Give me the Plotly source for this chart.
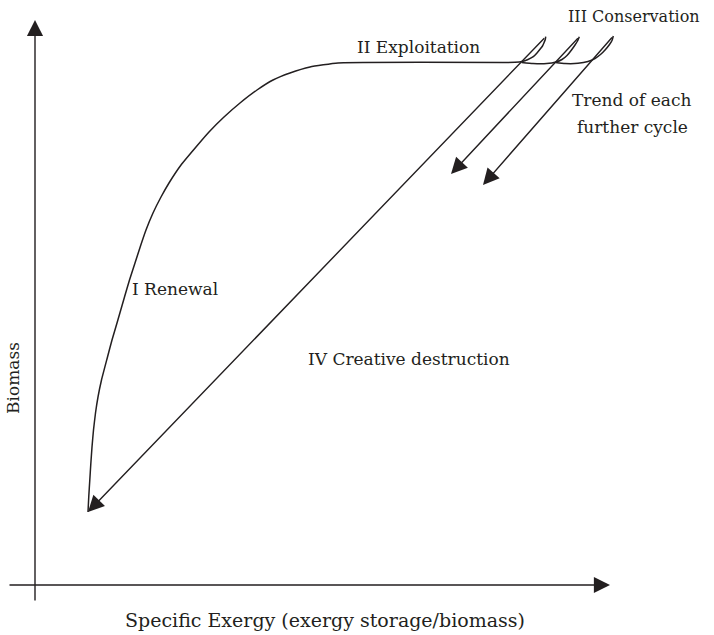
import plotly.graph_objects as go

# ---- data (conceptual units: x = specific exergy, y = biomass) ----
renewal_x = [53, 53.8, 54.8, 55.8, 57, 58.5, 60.5, 63, 66.5, 72.5, 77, 82, 89.5, 94.5, 100, 105.5,
             111, 118, 126, 134, 146, 161, 174, 189, 205, 222, 238, 255, 275, 303, 468]
renewal_y = [73, 89, 105, 121, 138, 155, 172, 188, 205, 228, 245, 262, 288, 305, 322, 339,
             355, 372, 388, 402, 420, 438, 453, 468, 482, 495, 505, 512, 518, 522, 522.5]

loop1_x = [468, 480, 487, 493, 498.3, 502, 505, 507.5, 509, 510.3, 510.7]
loop1_y = [522.5, 522.7, 523.5, 525.5, 528.3, 532, 535.7, 539, 542.3, 545.5, 548.3]

loop2_x = [486.7, 498, 511.7, 521, 527, 532, 536.5, 540, 542.5, 544.3]
loop2_y = [522.5, 521.5, 521.5, 523, 525.5, 529.5, 535, 540, 544, 548.3]

loop3_x = [520.4, 530, 543, 553, 560, 565.5, 570.5, 574.5, 577, 578.3]
loop3_y = [522.5, 521.5, 521.7, 523.5, 526.5, 530.5, 535.5, 540.5, 544.5, 549]

# arrows: tail -> tip
arrow_tail_x = [510.7, 544.3, 578.3, 0, -27]
arrow_tail_y = [548.3, 548.3, 549, -17, 0]
arrow_tip_x = [53, 416, 448, 0, 575]
arrow_tip_y = [73, 411, 400, 565, 0]

labels = ["III Conservation", "II Exploitation", "Trend of each", "further cycle",
          "I Renewal", "IV Creative destruction"]
label_x = [599, 383, 596, 597, 140, 374]
label_y = [569, 538, 485, 458, 296, 226]
label_size = [16, 17, 17, 17, 17, 17]

x_title = "Specific Exergy (exergy storage/biomass)"
y_title = "Biomass"

INK = "#231f20"

fig = go.Figure()
for xs, ys in [(renewal_x, renewal_y), (loop1_x, loop1_y), (loop2_x, loop2_y), (loop3_x, loop3_y)]:
    fig.add_trace(go.Scatter(x=xs, y=ys, mode="lines",
                             line=dict(color=INK, width=1.5, shape="spline", smoothing=0.4),
                             hoverinfo="skip", showlegend=False))

for tx, ty, hx, hy in zip(arrow_tail_x, arrow_tail_y, arrow_tip_x, arrow_tip_y):
    fig.add_annotation(x=hx, y=hy, ax=tx, ay=ty, xref="x", yref="y", axref="x", ayref="y",
                       text="", showarrow=True, arrowhead=2, arrowsize=2.3, arrowwidth=1.4,
                       arrowcolor=INK, standoff=0, startstandoff=0)

for t, lx, ly, s in zip(labels, label_x, label_y, label_size):
    fig.add_annotation(x=lx, y=ly, xref="x", yref="y", text=t, showarrow=False,
                       font=dict(family="DejaVu Serif", size=s, color=INK))

fig.add_annotation(x=290, y=-35, xref="x", yref="y", text=x_title, showarrow=False,
                   font=dict(family="DejaVu Serif", size=19, color=INK))
fig.add_annotation(x=-22, y=207, xref="x", yref="y", text=y_title, showarrow=False,
                   font=dict(family="DejaVu Serif", size=17, color=INK), textangle=-90)

fig.update_xaxes(range=[-35, 679], visible=False)
fig.update_yaxes(range=[-50, 585], visible=False)
fig.update_layout(width=714, height=635, margin=dict(l=0, r=0, t=0, b=0),
                  plot_bgcolor="white", paper_bgcolor="white", hovermode=False)

fig.write_html("out.html", config={"displayModeBar": False, "staticPlot": True},
               post_script="document.body.style.margin='0px';")
